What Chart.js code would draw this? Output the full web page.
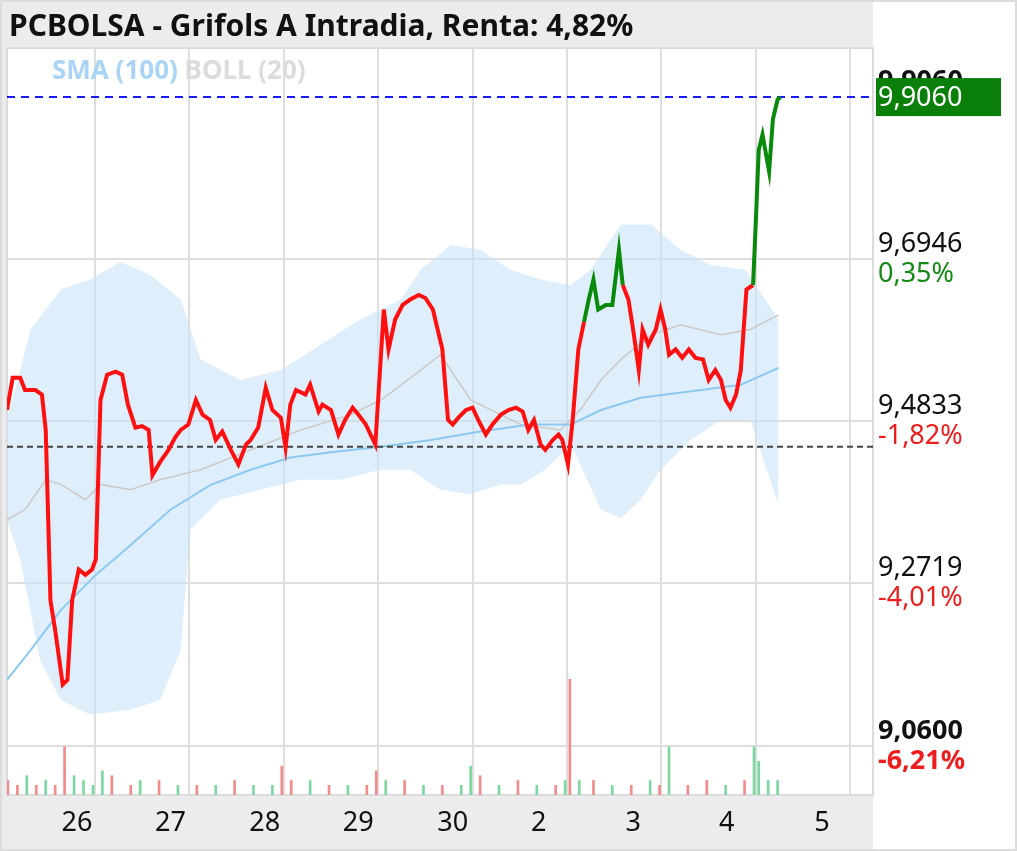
<!DOCTYPE html>
<html>
<head>
<meta charset="utf-8">
<script src="https://cdn.jsdelivr.net/npm/chart.js@4/dist/chart.umd.min.js"></script>
<style>
  html, body { margin: 0; padding: 0; background: #fff; }
  #wrap { width: 1017px; height: 851px; }
</style>
</head>
<body>
<div id="wrap"><canvas id="myChart" width="1017" height="851"></canvas></div>
<script>
// x unidades: 10 = un dia (cuadricula en 10,20,...,90)
const dayLabels = ['26', '27', '28', '29', '30', '2', '3', '4', '5'];
const dayLabelX = [8.1, 18.0, 28.0, 37.9, 47.9, 57.0, 67.0, 76.9, 87.0];
const priceTicks = [9.0600, 9.2719, 9.4833, 9.6946];
const priceTickPct = ['-6,21%', '-4,01%', '-1,82%', '0,35%'];
const lastPrice = 9.9060;
const refPrice = 9.450;

const priceX = [0.7,1.3,2.1,2.6,3.7,4.4,4.8,5.3,5.8,6.6,7.1,7.6,8.3,9.0,9.7,10.1,10.6,11.3,12.2,12.9,13.5,14.3,15.0,15.7,16.1,16.9,17.8,18.5,19.1,19.9,20.7,21.4,22.2,22.8,23.5,24.4,25.2,26.0,26.5,27.3,28.1,28.8,29.7,30.2,30.7,31.3,32.3,32.8,33.7,34.1,35.0,35.8,36.5,37.3,37.9,38.7,39.7,40.6,41.1,41.8,42.6,43.4,44.3,45.0,45.8,46.3,46.8,47.4,47.9,48.5,49.3,50.0,50.6,51.4,52.1,53.0,53.8,54.6,55.3,55.9,56.5,57.2,57.7,58.5,59.1,59.5,60.1,60.6,61.2,61.8,62.3,62.8,63.3,64.1,64.8,65.5,65.9,66.5,67.0,67.6,68.0,68.6,69.4,69.9,70.4,70.8,71.5,72.2,72.9,73.6,74.4,75.0,75.7,76.3,76.8,77.3,77.9,78.4,79.0,79.7,80.0,80.3,80.7,81.4,81.8,82.3,82.6];
const priceY = [9.498,9.540,9.540,9.524,9.524,9.518,9.472,9.250,9.211,9.140,9.146,9.250,9.290,9.283,9.290,9.303,9.511,9.544,9.548,9.544,9.505,9.475,9.477,9.472,9.413,9.430,9.446,9.462,9.472,9.479,9.511,9.492,9.485,9.459,9.470,9.446,9.427,9.453,9.459,9.475,9.527,9.498,9.488,9.449,9.505,9.524,9.518,9.531,9.496,9.505,9.498,9.466,9.485,9.501,9.492,9.479,9.453,9.629,9.577,9.616,9.635,9.642,9.648,9.644,9.629,9.603,9.577,9.485,9.479,9.488,9.498,9.501,9.485,9.466,9.479,9.492,9.498,9.501,9.496,9.472,9.485,9.453,9.446,9.459,9.466,9.459,9.427,9.485,9.577,9.613,9.642,9.668,9.629,9.635,9.635,9.707,9.661,9.642,9.603,9.550,9.603,9.583,9.603,9.629,9.603,9.570,9.577,9.566,9.577,9.566,9.564,9.537,9.550,9.537,9.511,9.501,9.518,9.550,9.655,9.661,9.746,9.837,9.857,9.809,9.877,9.903,9.906];
// tramos en verde
const greenRanges = [[61.8, 65.9], [79.7, 83]];

const smaX = [0.7,3.2,6.4,10.1,13.8,18.0,22.2,26.5,30.7,35.0,40.3,45.6,50.8,56.1,60.4,63.6,67.8,74.2,78.4,82.4];
const smaY = [9.146,9.185,9.237,9.283,9.322,9.368,9.400,9.420,9.436,9.443,9.450,9.459,9.470,9.479,9.479,9.498,9.514,9.524,9.531,9.553];

const bollMidX = [0.7,2.6,4.8,6.4,9.0,10.6,13.8,16.9,21.2,26.5,31.8,37.1,40.3,44.5,46.6,49.8,55.1,59.3,61.4,63.6,65.7,68.9,72.0,76.3,79.4,82.4];
const bollMidY = [9.355,9.368,9.407,9.401,9.381,9.401,9.394,9.407,9.420,9.446,9.472,9.492,9.511,9.550,9.570,9.511,9.479,9.472,9.498,9.537,9.564,9.596,9.609,9.596,9.603,9.622];
const bollUpX = [0.7,3.2,6.4,9.5,12.7,15.9,19.1,21.2,25.4,29.7,33.9,38.1,42.4,44.5,47.7,50.8,54.0,57.2,60.4,62.5,65.7,68.9,72.0,75.2,78.9,82.4];
const bollUpY = [9.485,9.603,9.655,9.668,9.691,9.674,9.642,9.564,9.537,9.550,9.583,9.616,9.642,9.681,9.713,9.707,9.681,9.668,9.661,9.681,9.740,9.740,9.707,9.687,9.681,9.616];
const bollLowX = [0.7,2.1,4.2,6.4,9.5,13.8,16.9,19.1,20.1,23.3,27.5,31.8,36.0,40.3,43.4,46.6,49.8,53.0,55.1,57.7,60.4,63.6,65.7,67.8,69.9,73.1,76.3,79.4,82.4];
const bollLowY = [9.355,9.303,9.172,9.120,9.101,9.107,9.120,9.185,9.342,9.381,9.394,9.407,9.407,9.420,9.420,9.394,9.388,9.401,9.401,9.420,9.453,9.368,9.357,9.381,9.420,9.459,9.485,9.485,9.374];

// volumen (unidades relativas) y si sube
const volX = [0.8,1.8,2.8,3.8,4.8,5.8,6.8,7.8,8.8,9.8,10.8,11.8,13.8,14.8,16.8,18.8,20.8,22.8,24.8,26.8,28.8,29.8,30.8,32.8,34.8,36.8,38.8,39.8,40.8,42.8,44.8,46.8,48.8,49.8,50.8,52.8,54.8,56.8,58.8,59.8,60.3,61.3,62.8,64.8,66.8,68.8,69.8,70.8,72.8,74.8,76.8,78.8,79.8,80.3,81.3,82.3];
const volY = [3,2,4,2,3,2,10,4,3,2,5,4,2,3,3,2,2,2,3,2,2,6,3,3,2,2,2,5,3,3,2,2,2,6,4,2,3,2,2,3,24,3,3,2,2,3,2,10,2,3,2,3,10,7,3,3];
const volUp = [0,0,1,0,1,0,0,1,1,1,1,0,0,1,0,1,0,1,0,1,1,0,0,1,0,1,0,0,1,0,1,0,1,1,0,1,0,1,0,1,0,1,0,1,0,1,0,1,0,0,1,0,1,1,1,1];

const toPts = (xs, ys) => xs.map((x, i) => ({ x: x, y: ys[i] }));
const isGreen = x => greenRanges.some(r => x >= r[0] && x <= r[1]);
const fmt = v => v.toFixed(4).replace('.', ',');

const ctx = document.getElementById('myChart');

const extras = {
  id: 'extras',
  beforeDraw(chart) {
    const c = chart.ctx;
    const a = chart.chartArea;
    c.save();
    c.fillStyle = '#fff';
    c.fillRect(0, 0, 1017, 851);
    c.fillStyle = '#ececec';
    c.fillRect(0, 0, a.right, a.top - 1);
    c.fillRect(0, a.bottom, a.right, 851 - a.bottom);
    c.fillRect(0, 0, a.left, a.bottom);
    c.strokeStyle = '#dcdcdc';
    c.lineWidth = 2;
    c.strokeRect(1, 1, 1015, 849);
    c.strokeRect(a.left, a.top, a.right - a.left, a.bottom - a.top);
    c.restore();
  },
  afterDraw(chart) {
    const c = chart.ctx;
    const xs = chart.scales.x, ys = chart.scales.y;
    c.save();
    // titulo
    c.fillStyle = '#111';
    c.font = 'bold 30px "Noto Sans"';
    c.textBaseline = 'middle';
    c.fillText('PCBOLSA - Grifols A Intradia, Renta: 4,82%', 9, 27);
    // leyenda
    c.font = 'bold 26px "Noto Sans"';
    c.fillStyle = '#a9d4f5';
    c.fillText('SMA (100)', 52, 72);
    const w = c.measureText('SMA (100) ').width;
    c.fillStyle = '#dcdcdc';
    c.fillText('BOLL (20)', 52 + w, 72);
    // dias
    c.fillStyle = '#111';
    c.font = '27px "Noto Sans"';
    c.textAlign = 'center';
    dayLabels.forEach((d, i) => {
      c.fillText(d, xs.getPixelForValue(dayLabelX[i]), 823);
    });
    // eje de precios
    c.textAlign = 'left';
    priceTicks.forEach((p, i) => {
      const y = ys.getPixelForValue(p);
      const bold = i === 0;
      c.font = (bold ? 'bold ' : '') + '27px "Noto Sans"';
      c.fillStyle = '#111';
      c.fillText(fmt(p), 878, y - 15);
      c.fillStyle = i === 3 ? '#138a13' : '#ee1c1c';
      c.fillText(priceTickPct[i], 878, y + 15);
    });
    // ultimo precio
    const ly = ys.getPixelForValue(lastPrice);
    c.font = 'bold 27px "Noto Sans"';
    c.fillStyle = '#111';
    c.fillText(fmt(lastPrice), 878, ly - 16);
    c.fillStyle = '#0a7f0a';
    c.fillRect(876, ly - 19, 125, 38);
    c.fillStyle = '#fff';
    c.font = '27px "Noto Sans"';
    c.fillText(fmt(lastPrice), 878, ly + 1);
    c.restore();
  }
};

const chart = new Chart(ctx, {
  type: 'line',
  data: {
    datasets: [
      {
        label: 'BOLL sup',
        data: toPts(bollUpX, bollUpY),
        borderWidth: 0,
        pointRadius: 0,
        backgroundColor: 'rgba(200,228,248,0.6)',
        fill: '+1',
        order: 10,
        yAxisID: 'y'
      },
      {
        label: 'BOLL inf',
        data: toPts(bollLowX, bollLowY),
        borderWidth: 0,
        pointRadius: 0,
        fill: false,
        order: 9,
        yAxisID: 'y'
      },
      {
        label: 'BOLL med',
        data: toPts(bollMidX, bollMidY),
        borderColor: 'rgba(200,190,185,0.8)',
        borderWidth: 1.5,
        pointRadius: 0,
        order: 6,
        yAxisID: 'y'
      },
      {
        label: 'SMA (100)',
        data: toPts(smaX, smaY),
        borderColor: '#8cc8f0',
        borderWidth: 2,
        pointRadius: 0,
        order: 5,
        yAxisID: 'y'
      },
      {
        label: 'ref',
        data: [{ x: 0.7, y: refPrice }, { x: 92.4, y: refPrice }],
        borderColor: '#444',
        borderDash: [6, 4],
        borderWidth: 2,
        pointRadius: 0,
        order: 3,
        yAxisID: 'y'
      },
      {
        label: 'ultimo',
        data: [{ x: 0.7, y: lastPrice }, { x: 92.4, y: lastPrice }],
        borderColor: '#1a1aff',
        borderDash: [8, 6],
        borderWidth: 2,
        pointRadius: 0,
        order: 2,
        yAxisID: 'y'
      },
      {
        label: 'precio',
        data: toPts(priceX, priceY),
        borderColor: '#ff1010',
        borderWidth: 4,
        pointRadius: 0,
        segment: {
          borderColor: s => isGreen(s.p1.parsed.x) && isGreen(s.p0.parsed.x) ? '#0a8a0a' : '#ff1010'
        },
        order: 0,
        yAxisID: 'y'
      },
      {
        type: 'bar',
        label: 'volumen',
        data: toPts(volX, volY),
        backgroundColor: volUp.map(u => u ? '#7dd8a0' : '#f28b8b'),
        barThickness: 2,
        order: 8,
        yAxisID: 'yv'
      }
    ]
  },
  options: {
    responsive: false,
    animation: false,
    layout: { padding: { left: 7, top: 48, right: 144, bottom: 56 } },
    plugins: { legend: { display: false }, tooltip: { enabled: false } },
    scales: {
      x: {
        type: 'linear',
        offset: false,
        min: 0.7,
        max: 92.4,
        afterBuildTicks: s => { s.ticks = dayLabels.map((d, i) => ({ value: (i + 1) * 10 })); },
        ticks: { display: false },
        grid: { color: '#dedede', lineWidth: 2, drawTicks: false, offset: false },
        border: { display: false },
        afterFit: s => { s.height = 0; }
      },
      y: {
        position: 'right',
        min: 8.996,
        max: 9.970,
        afterBuildTicks: s => { s.ticks = priceTicks.map(v => ({ value: v })); },
        ticks: { display: false },
        grid: { color: '#dedede', lineWidth: 2, drawTicks: false },
        border: { display: false },
        afterFit: s => { s.width = 0; }
      },
      yv: {
        display: false,
        min: 0,
        max: 155
      }
    }
  },
  plugins: [extras]
});
</script>
</body>
</html>
